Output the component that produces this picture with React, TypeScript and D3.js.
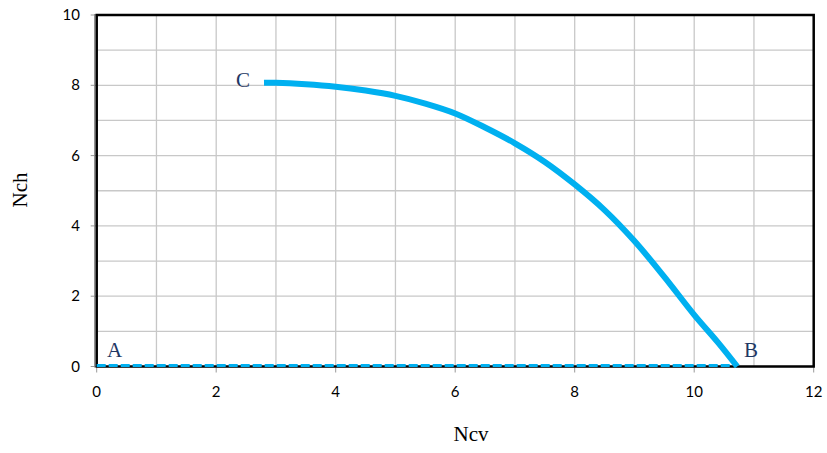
import React from "react";
import * as d3 from "d3";

const curveX = [2.8, 3, 3.5, 4, 4.5, 5, 5.5, 6, 6.5, 7, 7.5, 8, 8.5, 9, 9.5, 10, 10.4, 10.72];
const curveY = [8.07, 8.07, 8.03, 7.96, 7.85, 7.7, 7.48, 7.2, 6.8, 6.35, 5.82, 5.18, 4.45, 3.57, 2.55, 1.47, 0.68, 0];
const baseX = [0, 10.6];
const baseY = [0, 0];
const xTicks = [0, 2, 4, 6, 8, 10, 12];
const yTicks = [0, 2, 4, 6, 8, 10];
const xGrid = d3.range(0, 13);
const yGrid = d3.range(0, 11);
const pointLabels = [
  { name: "A", x: 0.3, y: 0.28 },
  { name: "B", x: 10.95, y: 0.26 },
  { name: "C", x: 2.45, y: 7.95 },
];

export default function App() {
  const W = 827, H = 453;
  const x = d3.scaleLinear().domain([0, 12]).range([96.7, 813.7]);
  const y = d3.scaleLinear().domain([0, 10]).range([366.5, 15]);
  const pts = curveX.map((v, i) => [v, curveY[i]] as [number, number]);
  const line = d3.line<[number, number]>().x(d => x(d[0])).y(d => y(d[1])).curve(d3.curveCatmullRom.alpha(0.5));
  const basePts = baseX.map((v, i) => [v, baseY[i]] as [number, number]);
  const lineStraight = d3.line<[number, number]>().x(d => x(d[0])).y(d => y(d[1]));
  const tickFont = "Lato, 'Open Sans', sans-serif";
  const serif = "'Liberation Serif', 'Times New Roman', serif";
  return (
    <svg width={W} height={H} style={{ position: "absolute", left: 0, top: 0, background: "#fff" }}>
      {xGrid.map(g => (
        <line key={"xg" + g} x1={x(g)} x2={x(g)} y1={y(0)} y2={y(10)} stroke="#c8c8c8" strokeWidth={1.3} />
      ))}
      {yGrid.map(g => (
        <line key={"yg" + g} x1={x(0)} x2={x(12)} y1={y(g)} y2={y(g)} stroke="#c8c8c8" strokeWidth={1.3} />
      ))}
      {xTicks.map(t => (
        <line key={"xt" + t} x1={x(t)} x2={x(t)} y1={y(0)} y2={y(0) + 6} stroke="#999" strokeWidth={1} />
      ))}
      {yTicks.map(t => (
        <line key={"yt" + t} x1={x(0) - 6} x2={x(0)} y1={y(t)} y2={y(t)} stroke="#999" strokeWidth={1} />
      ))}
      <line x1={x(0) - 2} x2={x(0) - 2} y1={y(10) - 1} y2={y(0) + 1} stroke="#888" strokeWidth={1.2} />
      <rect x={x(0)} y={y(10)} width={x(12) - x(0)} height={y(0) - y(10)} fill="none" stroke="#000" strokeWidth={2.5} />
      <path d={lineStraight(basePts) || ""} transform="translate(0,-1)" fill="none" stroke="#00b0f0" strokeWidth={3} strokeDasharray="9 3" />
      <path d={line(pts) || ""} fill="none" stroke="#00b0f0" strokeWidth={6} />
      {xTicks.map(t => (
        <text key={"xl" + t} x={x(t)} y={397} textAnchor="middle" fontFamily={tickFont} fontSize={15} fill="#000">{t}</text>
      ))}
      {yTicks.map(t => (
        <text key={"yl" + t} x={80} y={y(t) + 5} textAnchor="end" fontFamily={tickFont} fontSize={15} fill="#000">{t}</text>
      ))}
      {pointLabels.map(p => (
        <text key={p.name} x={x(p.x)} y={y(p.y)} textAnchor="middle" fontFamily={serif} fontSize={21} fill="#1f3864">{p.name}</text>
      ))}
      <text x={471} y={441} textAnchor="middle" fontFamily={serif} fontSize={21} fill="#000">Ncv</text>
      <text transform={`translate(27,${190}) rotate(-90)`} textAnchor="middle" fontFamily={serif} fontSize={21} fill="#000">Nch</text>
    </svg>
  );
}
